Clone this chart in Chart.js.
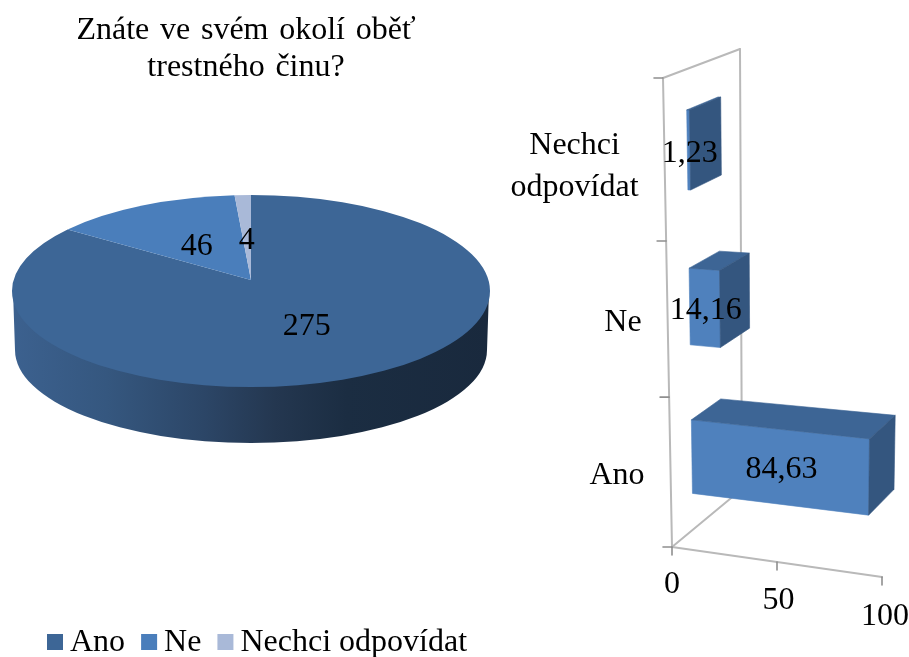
<!DOCTYPE html>
<html>
<head>
<meta charset="utf-8">
<style>
html,body{margin:0;padding:0;background:#fff;width:909px;height:657px;overflow:hidden}
canvas{position:absolute;top:0;display:block}
#pie{left:0}
#bar{left:500px}
</style>
<script src="https://cdn.jsdelivr.net/npm/chart.js@4/dist/chart.umd.min.js"></script>
</head>
<body>
<canvas id="pie" width="492" height="657"></canvas>
<canvas id="bar" width="409" height="657"></canvas>
<script>
const pieCategories = ['Ano', 'Ne', 'Nechci odpovídat'];
const pieValues = [275, 46, 4];
const pieColors = ['#3d6696', '#4a7ebb', '#a9b9d8'];
const titleLines = ['Znáte ve svém okolí oběť', 'trestného činu?'];

const barCategories = ['Ano', 'Ne', ['Nechci', 'odpovídat']];
const barValues = [84.63, 14.16, 1.23];
const barTicks = [0, 50, 100];

const SERIF = '"Liberation Serif", "Times New Roman", serif';
const FONT = '32px ' + SERIF;

/* ---------- pie: ellipse seen in perspective ---------- */
const PIE = {cx: 251, cy: 291, squash: 96 / 239, tilt: 0.115, depth: 59, shrink: 3};

function project(theta, r) {
  const s = Math.sin(theta) * r, c = Math.cos(theta) * r, a = PIE.tilt;
  const d = 1 + a * c;
  return {sx: s * Math.sqrt(1 - a * a) / d, sy: (c + a) / d};
}

const pie3d = {
  id: 'pie3d',
  beforeDraw(chart) {
    chart.ctx.wordSpacing = '2.75px';
  },
  beforeDatasetDraw(chart) {
    const ctx = chart.ctx, arcs = chart.getDatasetMeta(0).data;
    ctx.wordSpacing = '0px';
    const rx = arcs[0].outerRadius, ry = rx * PIE.squash;
    const {cx, cy, depth, shrink} = PIE;
    const side = ctx.createLinearGradient(cx - rx, 0, cx + rx, 0);
    [[0, '#3c618f'], [0.2, '#35577f'], [0.4, '#2c4667'], [0.55, '#243750'],
     [0.7, '#1b2d42'], [1, '#19293d']].forEach(s => side.addColorStop(s[0], s[1]));
    ctx.save();
    ctx.fillStyle = side;
    ctx.beginPath();
    ctx.moveTo(cx - rx + 1, cy);
    ctx.lineTo(cx + rx - 1, cy);
    ctx.lineTo(cx + rx - shrink, cy + depth);
    ctx.ellipse(cx, cy + depth, rx - shrink, ry - shrink, 0, 0, Math.PI, false);
    ctx.closePath();
    ctx.fill();
    arcs.forEach((el, i) => {
      const t0 = el.startAngle + Math.PI / 2, t1 = el.endAngle + Math.PI / 2;
      const p0 = project(t0, 1), p1 = project(t1, 1);
      let a0 = Math.atan2(p0.sx, p0.sy), a1 = Math.atan2(p1.sx, p1.sy);
      if (a1 <= a0) a1 += Math.PI * 2;
      ctx.fillStyle = pieColors[i];
      ctx.beginPath();
      ctx.moveTo(cx, cy - PIE.tilt * ry);
      ctx.ellipse(cx, cy, rx, ry, 0, a0 - Math.PI / 2, a1 - Math.PI / 2, false);
      ctx.closePath();
      ctx.fill();
    });
    ctx.restore();
    return false;
  },
  afterDatasetsDraw(chart) {
    const ctx = chart.ctx, arcs = chart.getDatasetMeta(0).data;
    const rx = arcs[0].outerRadius, ry = rx * PIE.squash;
    ctx.save();
    ctx.font = FONT;
    ctx.fillStyle = '#000';
    ctx.textAlign = 'center';
    ctx.textBaseline = 'middle';
    arcs.forEach((el, i) => {
      const mid = (el.startAngle + el.endAngle) / 2 + Math.PI / 2;
      const p = project(mid, 0.48);
      ctx.fillText(String(pieValues[i]), PIE.cx + p.sx * rx, PIE.cy - p.sy * ry + 4);
    });
    let x = 47;
    pieCategories.forEach((label, i) => {
      ctx.fillStyle = pieColors[i];
      ctx.fillRect(x, 634, 16, 16);
      ctx.fillStyle = '#000';
      ctx.textAlign = 'left';
      ctx.textBaseline = 'alphabetic';
      ctx.fillText(label, x + 23, 651);
      x += 23 + ctx.measureText(label).width + 16;
    });
    ctx.restore();
  }
};

new Chart(document.getElementById('pie'), {
  type: 'pie',
  data: {labels: pieCategories, datasets: [{data: pieValues, backgroundColor: pieColors, borderWidth: 0}]},
  options: {
    responsive: false,
    animation: false,
    layout: {padding: {left: 7, right: 7}},
    plugins: {
      legend: {display: false},
      tooltip: {enabled: false},
      title: {
        display: true,
        text: titleLines,
        color: '#000',
        font: {family: SERIF, size: 32, weight: 'normal', lineHeight: 1.16},
        padding: {top: 12, bottom: 0}
      }
    }
  },
  plugins: [pie3d]
});

/* ---------- bars: box in perspective ---------- */
const OFFSET_X = 500;
const BOX = {
  A: [663, 78], B: [672, 547], C: [882, 577], D: [888, 86],
  E: [740, 49], F: [742, 489], H: [942, 510], G: [953, 54]
};
const Z_FRONT = 0.3, Z_BACK = 0.71, V_WARP = 1.065;

function lerp(a, b, t) { return [a[0] + (b[0] - a[0]) * t, a[1] + (b[1] - a[1]) * t]; }
function P(u, v, z) {
  const w = v * V_WARP / (1 + (V_WARP - 1) * v);
  const front = lerp(lerp(BOX.A, BOX.D, u), lerp(BOX.B, BOX.C, u), w);
  const back = lerp(lerp(BOX.E, BOX.G, u), lerp(BOX.F, BOX.H, u), w);
  return lerp(front, back, z);
}
function poly(ctx, pts, color) {
  ctx.fillStyle = color;
  ctx.strokeStyle = color;
  ctx.lineWidth = 0.6;
  ctx.beginPath();
  pts.forEach((p, i) => i ? ctx.lineTo(p[0], p[1]) : ctx.moveTo(p[0], p[1]));
  ctx.closePath();
  ctx.fill();
  ctx.stroke();
}
function line(ctx, a, b, color, width) {
  ctx.strokeStyle = color;
  ctx.lineWidth = width;
  ctx.beginPath();
  ctx.moveTo(a[0], a[1]);
  ctx.lineTo(b[0], b[1]);
  ctx.stroke();
}
const uOf = (chart, px) => (px - chart.scales.x.left) / chart.scales.x.width;
const vOf = (chart, py) => (py - chart.scales.y.top) / chart.scales.y.height;

const bar3d = {
  id: 'bar3d',
  beforeDatasetDraw(chart) {
    const ctx = chart.ctx, xs = chart.scales.x;
    ctx.save();
    ctx.translate(-OFFSET_X, 0);
    ctx.lineCap = 'round';
    const wall = '#b9b9b9', tick = '#8f8f8f';
    line(ctx, P(0, 0, 0), P(0, 1, 0), wall, 2);
    line(ctx, P(0, 0, 1), P(0, 1, 1), wall, 2);
    line(ctx, P(0, 0, 0), P(0, 0, 1), wall, 2);
    line(ctx, P(0, 1, 0), P(0, 1, 1), wall, 2);
    line(ctx, P(0, 1, 0), P(1, 1, 0), wall, 2);
    const n = barCategories.length;
    for (let i = 0; i <= n; i++) {
      const p = P(0, i / n, 0);
      line(ctx, [p[0] - 9, p[1]], p, tick, 1.6);
    }
    barTicks.forEach(t => {
      const p = P(uOf(chart, xs.getPixelForValue(t)), 1, 0);
      line(ctx, p, [p[0], p[1] + 8], tick, 1.6);
    });
    ctx.lineCap = 'butt';
    chart.getDatasetMeta(0).data.forEach(el => {
      const u0 = uOf(chart, el.base), u1 = uOf(chart, el.x);
      const v0 = vOf(chart, el.y - el.height / 2), v1 = vOf(chart, el.y + el.height / 2);
      const a = P(u0, v0, Z_FRONT), b = P(u1, v0, Z_FRONT), c = P(u1, v1, Z_FRONT), d = P(u0, v1, Z_FRONT);
      const e = P(u0, v0, Z_BACK), f = P(u1, v0, Z_BACK), g = P(u1, v1, Z_BACK);
      poly(ctx, [a, b, c, d], '#4f81bd');
      poly(ctx, [a, b, f, e], '#3d6595');
      poly(ctx, [b, f, g, c], '#34567f');
    });
    ctx.restore();
    return false;
  },
  afterDatasetsDraw(chart) {
    const ctx = chart.ctx, xs = chart.scales.x, ys = chart.scales.y;
    ctx.save();
    ctx.translate(-OFFSET_X, 0);
    ctx.font = FONT;
    ctx.fillStyle = '#000';
    ctx.textBaseline = 'middle';
    ctx.textAlign = 'center';
    chart.getDatasetMeta(0).data.forEach((el, i) => {
      const p = P((uOf(chart, el.base) + uOf(chart, el.x)) / 2, vOf(chart, el.y), Z_FRONT);
      ctx.fillText(barValues[i].toFixed(2).replace('.', ','), p[0] + 1, p[1] + 3);
    });
    barTicks.forEach(t => {
      const p = P(uOf(chart, xs.getPixelForValue(t)), 1, 0);
      ctx.fillText(String(t), p[0] + t * 0.03, p[1] + 38 + t * 0.02);
    });
    barCategories.forEach((label, i) => {
      const lines = Array.isArray(label) ? label : [label];
      const p = P(0, vOf(chart, ys.getPixelForValue(i)), 0);
      const w = Math.max(...lines.map(l => ctx.measureText(l).width));
      const xc = p[0] - 26 - w / 2;
      lines.forEach((l, k) => {
        const extra = lines.length > 1 ? 6 : 3;
        ctx.fillText(l, xc, p[1] + extra + (k - (lines.length - 1) / 2) * 42);
      });
    });
    ctx.restore();
  }
};

new Chart(document.getElementById('bar'), {
  type: 'bar',
  data: {labels: barCategories, datasets: [{data: barValues, backgroundColor: '#4f81bd', barPercentage: 0.5, categoryPercentage: 1}]},
  options: {
    indexAxis: 'y',
    responsive: false,
    animation: false,
    scales: {
      x: {display: false, min: 0, max: 100, ticks: {stepSize: 50}},
      y: {display: false, reverse: true}
    },
    plugins: {legend: {display: false}, tooltip: {enabled: false}}
  },
  plugins: [bar3d]
});
</script>
</body>
</html>
